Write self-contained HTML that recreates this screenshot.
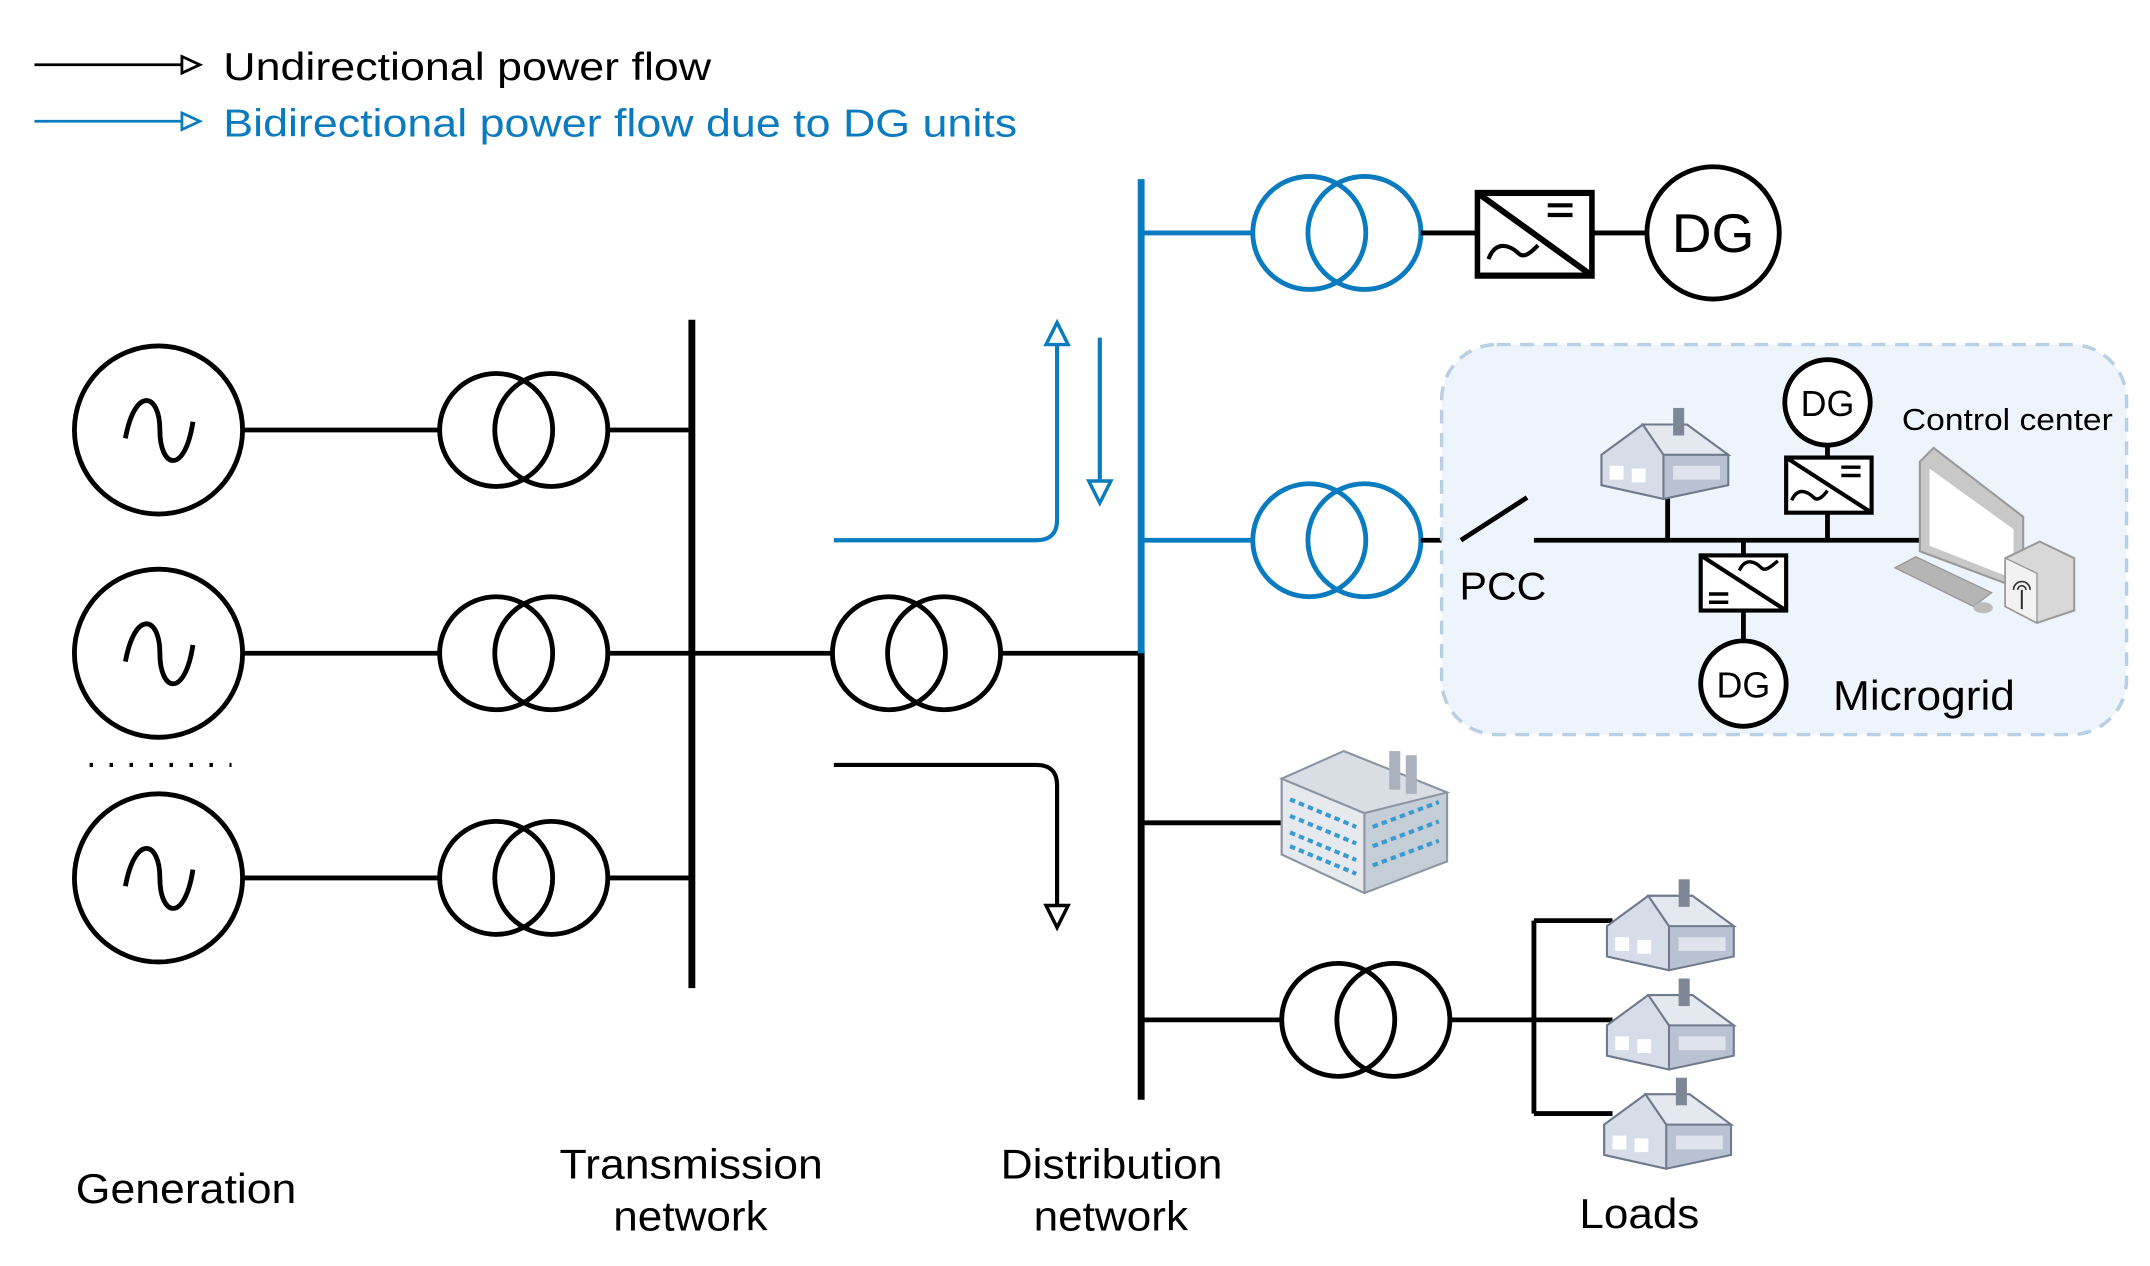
<!DOCTYPE html>
<html><head><meta charset="utf-8"><style>
html,body{margin:0;padding:0;background:#fff;}
svg{display:block;}
text{font-family:"Liberation Sans",Arial,sans-serif;}
</style></head><body>
<svg width="2150" height="1266" viewBox="0 0 1560 918.6" preserveAspectRatio="none" xmlns="http://www.w3.org/2000/svg">
<defs>
<g id="house">
 <polygon points="0,30 30,8 62,8 92,30 92,52 45,62 0,52" fill="#b9c2d2" stroke="#6f7a8c" stroke-width="1.5"/>
 <polygon points="0,30 30,8 45,30 45,62 0,52" fill="#d6dde8" stroke="#6f7a8c" stroke-width="1.5"/>
 <polygon points="30,8 62,8 92,30 45,30" fill="#e4e8ef" stroke="#6f7a8c" stroke-width="1.5"/>
 <rect x="52" y="-4" width="8" height="20" fill="#7e8796"/>
 <rect x="6" y="38" width="10" height="10" fill="#fff"/>
 <rect x="22" y="40" width="10" height="10" fill="#fff"/>
 <rect x="52" y="38" width="34" height="10" fill="#dfe4ec"/>
</g>
<g id="conv">
 <rect x="0" y="0" width="62" height="40" fill="#fff" stroke="#000" stroke-width="3"/>
 <line x1="0" y1="0" x2="62" y2="40" stroke="#000" stroke-width="3"/>
</g>
</defs>
<g fill="none" stroke-width="3.5" stroke="#000">
<line x1="25" y1="47" x2="132" y2="47" stroke-width="2"/>
<polygon points="132,41 145,47 132,53" stroke-width="2" fill="#fff"/>
<line x1="25" y1="88" x2="132" y2="88" stroke="#0a7bbf" stroke-width="2"/>
<polygon points="132,82 145,88 132,94" stroke="#0a7bbf" stroke-width="2" fill="#fff"/>
<circle cx="115" cy="312" r="61"/><circle cx="115" cy="474" r="61"/><circle cx="115" cy="637" r="61"/>
<path d="M93,318 C100,280 118,285 118,312 C118,340 136,345 142,306" transform="translate(-2,0)"/>
<path d="M93,480 C100,442 118,447 118,474 C118,502 136,507 142,468" transform="translate(-2,0)"/>
<path d="M93,643 C100,605 118,610 118,637 C118,665 136,670 142,631" transform="translate(-2,0)"/>
<line x1="176" y1="312" x2="320" y2="312"/><line x1="176" y1="474" x2="320" y2="474"/><line x1="176" y1="637" x2="320" y2="637"/>
<circle cx="360" cy="312" r="41"/><circle cx="400" cy="312" r="41"/>
<circle cx="360" cy="474" r="41"/><circle cx="400" cy="474" r="41"/>
<circle cx="360" cy="637" r="41"/><circle cx="400" cy="637" r="41"/>
<line x1="441" y1="312" x2="502" y2="312"/><line x1="441" y1="474" x2="502" y2="474"/><line x1="441" y1="637" x2="502" y2="637"/>
<line x1="502" y1="232" x2="502" y2="717" stroke-width="5"/>
<line x1="65" y1="555" x2="168" y2="555" stroke-dasharray="2.5,12" stroke-width="3"/>
<line x1="502" y1="474" x2="605" y2="474"/>
<circle cx="645" cy="474" r="41"/><circle cx="685" cy="474" r="41"/>
<line x1="726" y1="474" x2="828" y2="474"/>
<line x1="828" y1="472" x2="828" y2="798" stroke-width="5"/>
<line x1="828" y1="130" x2="828" y2="474" stroke-width="5" stroke="#0a7bbf"/>
<g stroke="#0a7bbf">
<line x1="828" y1="169" x2="910" y2="169"/>
<circle cx="950" cy="169" r="41"/><circle cx="990" cy="169" r="41"/>
<line x1="828" y1="392" x2="910" y2="392"/>
<circle cx="950" cy="392" r="41"/><circle cx="990" cy="392" r="41"/>
<path d="M605,392 H752 Q767,392 767,377 V248" stroke-width="3"/>
<polygon points="759,250 767,234 775,250" stroke-width="2.5" fill="#fff"/>
<line x1="798" y1="245" x2="798" y2="350" stroke-width="3"/>
<polygon points="790,349 798,365 806,349" stroke-width="2.5" fill="#fff"/>
</g>
<line x1="1031" y1="169" x2="1072" y2="169"/>
<line x1="1155" y1="169" x2="1195" y2="169"/>
<circle cx="1243" cy="169" r="48"/>
<line x1="1031" y1="392" x2="1060" y2="392"/>
<path d="M605,555 H752 Q767,555 767,570 V658" stroke-width="3"/>
<polygon points="759,657 767,673 775,657" stroke-width="2.5" fill="#fff"/>
</g>
<use href="#conv" transform="translate(1072,140) scale(1.34,1.5)"/>
<rect x="1072" y="140" width="83" height="60" fill="none" stroke="#000" stroke-width="3.5"/>
<path d="M1080,188 C1086,172 1098,180 1102,184 C1106,188 1112,182 1116,178" fill="none" stroke="#000" stroke-width="3"/>
<line x1="1123" y1="149" x2="1141" y2="149" stroke="#000" stroke-width="3"/><line x1="1123" y1="156" x2="1141" y2="156" stroke="#000" stroke-width="3"/>
<text x="1243" y="183" font-size="40" text-anchor="middle">DG</text>
<rect x="1046" y="250" width="497" height="283" rx="40" fill="#eef4fb" stroke="#b8cfe4" stroke-width="2.5" stroke-dasharray="10,7"/>
<g stroke="#000" stroke-width="3.5" fill="none">
<line x1="1060" y1="392" x2="1108" y2="361"/>
<line x1="1113" y1="392" x2="1398" y2="392"/>
<line x1="1210" y1="355" x2="1210" y2="392"/>
<line x1="1326" y1="323" x2="1326" y2="332"/>
<line x1="1326" y1="372" x2="1326" y2="392"/>
<line x1="1265" y1="392" x2="1265" y2="402"/>
<line x1="1265" y1="444" x2="1265" y2="466"/>
<circle cx="1326" cy="292" r="31" fill="#fff"/>
<circle cx="1265" cy="496" r="31" fill="#fff"/>
</g>
<use href="#house" transform="translate(1162,300)"/>
<use href="#conv" transform="translate(1296,332)"/>
<path d="M1300,363 C1305,352 1313,358 1316,361 C1319,364 1323,360 1326,356" fill="none" stroke="#000" stroke-width="2.5"/>
<line x1="1336" y1="339" x2="1350" y2="339" stroke="#000" stroke-width="2.5"/><line x1="1336" y1="345" x2="1350" y2="345" stroke="#000" stroke-width="2.5"/>
<use href="#conv" transform="translate(1234,403)"/>
<path d="M1262,414 C1267,403 1275,409 1278,412 C1281,415 1285,411 1290,407" fill="none" stroke="#000" stroke-width="2.5"/>
<line x1="1240" y1="431" x2="1254" y2="431" stroke="#000" stroke-width="2.5"/><line x1="1240" y1="437" x2="1254" y2="437" stroke="#000" stroke-width="2.5"/>
<text x="1326" y="302" font-size="26" text-anchor="middle">DG</text>
<text x="1265" y="506" font-size="26" text-anchor="middle">DG</text>
<text x="1380" y="312" font-size="22" textLength="153" lengthAdjust="spacingAndGlyphs">Control center</text>
<text x="1330" y="515" font-size="30" textLength="132" lengthAdjust="spacingAndGlyphs">Microgrid</text>
<text x="1059" y="435" font-size="28" textLength="63" lengthAdjust="spacingAndGlyphs">PCC</text>
<!-- computer -->
<polygon points="1393,335 1403,325 1468,375 1468,428 1393,400" fill="#c8c8c8" stroke="#999" stroke-width="1.5"/>
<polygon points="1400,340 1461,384 1461,420 1400,396" fill="#fff"/>
<polygon points="1375,412 1390,404 1445,430 1432,440" fill="#b5b5b5" stroke="#999"/>
<ellipse cx="1439" cy="441" rx="7" ry="4" fill="#bbb"/>
<polygon points="1455,405 1480,393 1505,405 1505,443 1478,452 1455,440" fill="#d8d8d8" stroke="#999" stroke-width="1.5"/>
<polygon points="1455,405 1478,416 1478,452 1455,440" fill="#f2f2f2" stroke="#999"/>
<path d="M1461,428 a6,6 0 0 1 12,0 M1464,428 a3,3 0 0 1 6,0" fill="none" stroke="#333" stroke-width="1.2"/>
<line x1="1467" y1="428" x2="1467" y2="442" stroke="#333" stroke-width="1.5"/>
<!-- factory -->
<line x1="828" y1="597" x2="930" y2="597" stroke="#000" stroke-width="3.5"/>
<polygon points="930,565 975,545 1050,575 1050,625 990,648 930,620" fill="#c5cdd6" stroke="#8c96a2" stroke-width="1.5"/>
<polygon points="930,565 990,590 990,648 930,620" fill="#e6eaee" stroke="#8c96a2" stroke-width="1.5"/>
<polygon points="930,565 975,545 1050,575 990,590" fill="#d9dee4" stroke="#8c96a2" stroke-width="1.5"/>
<rect x="1008" y="545" width="8" height="28" fill="#a9b2bd"/><rect x="1020" y="548" width="8" height="28" fill="#a9b2bd"/>
<g stroke="#3a9bd0" stroke-width="3" stroke-dasharray="4,3">
<line x1="936" y1="580" x2="984" y2="600"/><line x1="936" y1="592" x2="984" y2="612"/><line x1="936" y1="604" x2="984" y2="624"/><line x1="936" y1="614" x2="984" y2="634"/>
<line x1="996" y1="600" x2="1044" y2="582"/><line x1="996" y1="614" x2="1044" y2="596"/><line x1="996" y1="628" x2="1044" y2="610"/>
</g>
<g stroke="#000" stroke-width="3.5" fill="none">
<line x1="828" y1="740" x2="931" y2="740"/>
<circle cx="971" cy="740" r="41"/><circle cx="1011" cy="740" r="41"/>
<line x1="1052" y1="740" x2="1113" y2="740"/>
<line x1="1113" y1="668" x2="1113" y2="808"/>
<line x1="1113" y1="668" x2="1170" y2="668"/>
<line x1="1113" y1="740" x2="1170" y2="740"/>
<line x1="1113" y1="808" x2="1170" y2="808"/>
</g>
<use href="#house" transform="translate(1166,642)"/>
<use href="#house" transform="translate(1166,714)"/>
<use href="#house" transform="translate(1164,786)"/>
<text x="162" y="58" font-size="28" textLength="354" lengthAdjust="spacingAndGlyphs">Undirectional power flow</text>
<text x="162" y="99" font-size="28" fill="#0a7bbf" textLength="576" lengthAdjust="spacingAndGlyphs">Bidirectional power flow due to DG units</text>
<text x="55" y="873" font-size="30" textLength="160" lengthAdjust="spacingAndGlyphs">Generation</text>
<text x="406" y="855" font-size="30" textLength="191" lengthAdjust="spacingAndGlyphs">Transmission</text>
<text x="445" y="893" font-size="30" textLength="112" lengthAdjust="spacingAndGlyphs">network</text>
<text x="726" y="855" font-size="30" textLength="161" lengthAdjust="spacingAndGlyphs">Distribution</text>
<text x="750" y="893" font-size="30" textLength="112" lengthAdjust="spacingAndGlyphs">network</text>
<text x="1146" y="891" font-size="30" textLength="87" lengthAdjust="spacingAndGlyphs">Loads</text>
</svg>
</body></html>
